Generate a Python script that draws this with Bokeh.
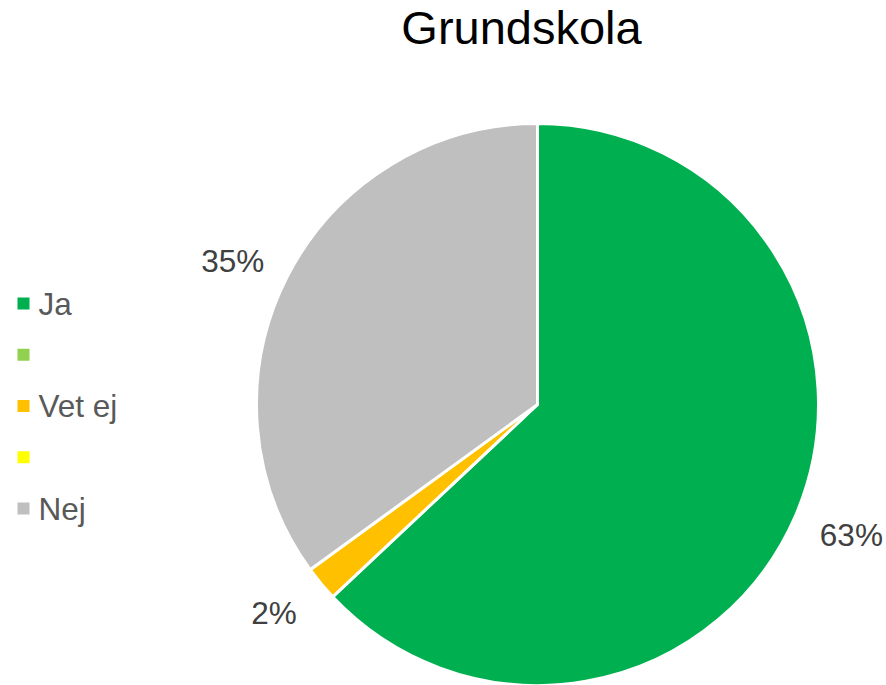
import numpy as np
from bokeh.plotting import figure
from bokeh.models import Range1d, ColumnDataSource
from bokeh.core.properties import value
from bokeh.embed import file_html
from bokeh.resources import INLINE

# ---- data ----
title_text = "Grundskola"
categories = ["Ja", "", "Vet ej", "", "Nej"]
values = [63, 0, 2, 0, 35]
colors = ["#00B050", "#92D050", "#FFC000", "#FFFF00", "#BFBFBF"]

W, H = 886, 685
p = figure(width=W, height=H, output_backend="svg", toolbar_location=None,
           x_range=Range1d(0, W), y_range=Range1d(0, H),
           min_border=0, outline_line_color=None, background_fill_color="white",
           border_fill_color="white")
p.axis.visible = False
p.grid.visible = False

# pie centre / radius in pixel units (y measured from bottom)
cx, cy, r = 537, 685 - 404, 281

vals = np.array(values, dtype=float)
frac = vals / vals.sum()
cum_end = np.cumsum(frac)
cum_start = cum_end - frac
start_angle = np.pi / 2 - 2 * np.pi * cum_start
end_angle = np.pi / 2 - 2 * np.pi * cum_end
mid_angle = (start_angle + end_angle) / 2

mask = vals > 0
src = ColumnDataSource(dict(
    start=start_angle[mask], end=end_angle[mask],
    color=[c for c, m in zip(colors, mask) if m],
))
p.wedge(x=cx, y=cy, radius=r, start_angle="start", end_angle="end",
        direction="clock", fill_color="color", line_color="white", line_width=3,
        source=src)

# percentage labels (outside end)
lrx, lry = 342, 322
lab = ColumnDataSource(dict(
    x=cx + lrx * np.cos(mid_angle[mask]),
    y=cy + lry * np.sin(mid_angle[mask]) - 3,
    t=[f"{int(round(v))}%" for v in vals[mask]],
))
p.text(x="x", y="y", text="t", source=lab, text_align="center",
       text_baseline="middle", text_font=value("Liberation Sans"),
       text_font_size="31.5px", text_color="#404040")

# title
p.text(x=[521], y=[658], text=[title_text], text_align="center",
       text_baseline="alphabetic", text_font=value("Liberation Sans"),
       text_font_size="47px", text_color="#000000")

# legend
ly0, lstep = 685 - 303, 51.25
leg_y = [ly0 - i * lstep for i in range(len(categories))]
leg = ColumnDataSource(dict(x=[23] * len(categories), tx=[38] * len(categories),
                            y=leg_y, color=colors, label=categories))
p.rect(x="x", y="y", width=12, height=12, fill_color="color", line_color=None,
       source=leg)
p.text(x="tx", y="y", text="label", source=leg, text_align="left",
       text_baseline="middle", text_font=value("Liberation Sans"),
       text_font_size="31.5px", text_color="#595959")

open("out.html", "w").write(file_html(p, INLINE))
